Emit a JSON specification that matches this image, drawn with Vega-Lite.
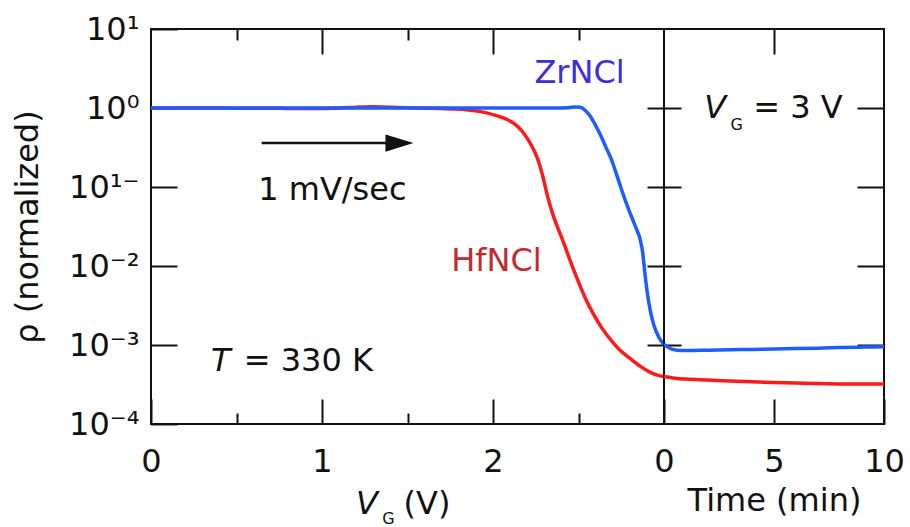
{
  "$schema": "https://vega.github.io/schema/vega-lite/v6.json",
  "padding": {"left": 10, "top": 12, "right": 5, "bottom": 5},
  "background": "white",
  "spacing": 0,
  "bounds": "flush",
  "config": {
    "view": {"stroke": "#111", "strokeWidth": 2},
    "axis": {
      "domain": false, "grid": false,
      "tickColor": "#111", "tickWidth": 2,
      "labelFont": "DejaVu Sans", "labelFontSize": 32, "labelColor": "#111",
      "titleFont": "DejaVu Sans", "titleFontSize": 32, "titleFontWeight": "normal", "titleColor": "#111",
      "labelFlush": false, "labelOverlap": false
    }
  },
  "datasets": {
    "sweep": [
      {"material": "HfNCl", "V": 0, "rho": 1.0},
      {"material": "HfNCl", "V": 0.25, "rho": 1.0},
      {"material": "HfNCl", "V": 0.5, "rho": 1.0},
      {"material": "HfNCl", "V": 0.75, "rho": 0.99},
      {"material": "HfNCl", "V": 0.95, "rho": 0.985},
      {"material": "HfNCl", "V": 1.1, "rho": 1.0},
      {"material": "HfNCl", "V": 1.2, "rho": 1.025},
      {"material": "HfNCl", "V": 1.3, "rho": 1.04},
      {"material": "HfNCl", "V": 1.4, "rho": 1.02},
      {"material": "HfNCl", "V": 1.55, "rho": 1.0},
      {"material": "HfNCl", "V": 1.7, "rho": 0.985},
      {"material": "HfNCl", "V": 1.8, "rho": 0.97},
      {"material": "HfNCl", "V": 1.88, "rho": 0.93},
      {"material": "HfNCl", "V": 1.95, "rho": 0.88},
      {"material": "HfNCl", "V": 2.02, "rho": 0.8},
      {"material": "HfNCl", "V": 2.08, "rho": 0.72},
      {"material": "HfNCl", "V": 2.13, "rho": 0.62},
      {"material": "HfNCl", "V": 2.18, "rho": 0.48},
      {"material": "HfNCl", "V": 2.22, "rho": 0.35},
      {"material": "HfNCl", "V": 2.26, "rho": 0.23},
      {"material": "HfNCl", "V": 2.29, "rho": 0.14},
      {"material": "HfNCl", "V": 2.32, "rho": 0.075},
      {"material": "HfNCl", "V": 2.35, "rho": 0.045},
      {"material": "HfNCl", "V": 2.38, "rho": 0.03},
      {"material": "HfNCl", "V": 2.42, "rho": 0.018},
      {"material": "HfNCl", "V": 2.46, "rho": 0.0104},
      {"material": "HfNCl", "V": 2.5, "rho": 0.0063},
      {"material": "HfNCl", "V": 2.54, "rho": 0.0039},
      {"material": "HfNCl", "V": 2.59, "rho": 0.0024},
      {"material": "HfNCl", "V": 2.64, "rho": 0.0016},
      {"material": "HfNCl", "V": 2.69, "rho": 0.00115},
      {"material": "HfNCl", "V": 2.74, "rho": 0.00087},
      {"material": "HfNCl", "V": 2.8, "rho": 0.00068},
      {"material": "HfNCl", "V": 2.86, "rho": 0.00054},
      {"material": "HfNCl", "V": 2.92, "rho": 0.00045},
      {"material": "HfNCl", "V": 2.97, "rho": 0.00041},
      {"material": "HfNCl", "V": 3.0, "rho": 0.0004},
      {"material": "ZrNCl", "V": 0, "rho": 1.0},
      {"material": "ZrNCl", "V": 0.25, "rho": 1.0},
      {"material": "ZrNCl", "V": 0.5, "rho": 0.995},
      {"material": "ZrNCl", "V": 0.75, "rho": 1.0},
      {"material": "ZrNCl", "V": 1.0, "rho": 1.0},
      {"material": "ZrNCl", "V": 1.25, "rho": 1.0},
      {"material": "ZrNCl", "V": 1.5, "rho": 1.0},
      {"material": "ZrNCl", "V": 1.75, "rho": 1.0},
      {"material": "ZrNCl", "V": 2.0, "rho": 1.0},
      {"material": "ZrNCl", "V": 2.2, "rho": 1.0},
      {"material": "ZrNCl", "V": 2.35, "rho": 1.0},
      {"material": "ZrNCl", "V": 2.44, "rho": 1.01},
      {"material": "ZrNCl", "V": 2.48, "rho": 1.03},
      {"material": "ZrNCl", "V": 2.51, "rho": 1.02},
      {"material": "ZrNCl", "V": 2.54, "rho": 0.93},
      {"material": "ZrNCl", "V": 2.57, "rho": 0.78},
      {"material": "ZrNCl", "V": 2.6, "rho": 0.6},
      {"material": "ZrNCl", "V": 2.63, "rho": 0.45},
      {"material": "ZrNCl", "V": 2.66, "rho": 0.32},
      {"material": "ZrNCl", "V": 2.69, "rho": 0.23},
      {"material": "ZrNCl", "V": 2.72, "rho": 0.15},
      {"material": "ZrNCl", "V": 2.75, "rho": 0.095},
      {"material": "ZrNCl", "V": 2.78, "rho": 0.062},
      {"material": "ZrNCl", "V": 2.81, "rho": 0.042},
      {"material": "ZrNCl", "V": 2.84, "rho": 0.029},
      {"material": "ZrNCl", "V": 2.86, "rho": 0.022},
      {"material": "ZrNCl", "V": 2.875, "rho": 0.015},
      {"material": "ZrNCl", "V": 2.89, "rho": 0.0075},
      {"material": "ZrNCl", "V": 2.905, "rho": 0.0042},
      {"material": "ZrNCl", "V": 2.92, "rho": 0.0027},
      {"material": "ZrNCl", "V": 2.94, "rho": 0.0018},
      {"material": "ZrNCl", "V": 2.97, "rho": 0.00125},
      {"material": "ZrNCl", "V": 3.0, "rho": 0.00102}
    ],
    "hold": [
      {"material": "HfNCl", "t": 0, "rho": 0.0004},
      {"material": "HfNCl", "t": 0.5, "rho": 0.00038},
      {"material": "HfNCl", "t": 1, "rho": 0.00037},
      {"material": "HfNCl", "t": 2, "rho": 0.00036},
      {"material": "HfNCl", "t": 3, "rho": 0.00035},
      {"material": "HfNCl", "t": 4, "rho": 0.000342},
      {"material": "HfNCl", "t": 5, "rho": 0.000335},
      {"material": "HfNCl", "t": 6, "rho": 0.00033},
      {"material": "HfNCl", "t": 7, "rho": 0.000326},
      {"material": "HfNCl", "t": 8, "rho": 0.000322},
      {"material": "HfNCl", "t": 9, "rho": 0.00032},
      {"material": "HfNCl", "t": 10, "rho": 0.00032},
      {"material": "ZrNCl", "t": 0, "rho": 0.00102},
      {"material": "ZrNCl", "t": 0.3, "rho": 0.0009},
      {"material": "ZrNCl", "t": 0.6, "rho": 0.00086},
      {"material": "ZrNCl", "t": 1, "rho": 0.00085},
      {"material": "ZrNCl", "t": 2, "rho": 0.00086},
      {"material": "ZrNCl", "t": 3, "rho": 0.00087},
      {"material": "ZrNCl", "t": 4, "rho": 0.00088},
      {"material": "ZrNCl", "t": 5, "rho": 0.00089},
      {"material": "ZrNCl", "t": 6, "rho": 0.0009},
      {"material": "ZrNCl", "t": 7, "rho": 0.00091},
      {"material": "ZrNCl", "t": 8, "rho": 0.00093},
      {"material": "ZrNCl", "t": 9, "rho": 0.00094},
      {"material": "ZrNCl", "t": 10, "rho": 0.00095}
    ]
  },
  "hconcat": [
    {
      "width": 513,
      "height": 395,
      "resolve": {"axis": {"x": "independent", "y": "independent"}},
      "layer": [
        {
          "data": {"name": "sweep"},
          "mark": {"type": "line", "strokeWidth": 3.5, "interpolate": "monotone", "clip": true},
          "encoding": {
            "x": {"field": "V", "type": "quantitative", "scale": {"domain": [0, 3], "nice": false, "zero": false},
                  "axis": {"orient": "bottom", "values": [0, 1, 2], "tickSize": -25, "labelPadding": 47, "title": null}},
            "y": {"field": "rho", "type": "quantitative", "scale": {"type": "log", "domain": [0.0001, 10], "nice": false},
                  "axis": {"orient": "left", "values": [10, 1, 0.1, 0.01, 0.001, 0.0001], "tickSize": -26, "labelPadding": 38,
                           "labelExpr": "datum.value > 5 ? '10¹' : datum.value > 0.5 ? '10⁰' : datum.value > 0.05 ? '10¹⁻' : datum.value > 0.005 ? '10⁻²' : datum.value > 0.0005 ? '10⁻³' : '10⁻⁴'",
                           "title": "ρ (normalized)", "titlePadding": 24}},
            "color": {"field": "material", "type": "nominal", "scale": {"domain": ["HfNCl", "ZrNCl"], "range": ["#ff1a1a", "#1f5cff"]}, "legend": null}
          }
        },
        {
          "data": {"values": [{"V": 2.506, "rho": 2.75, "label": "ZrNCl"}]},
          "mark": {"type": "text", "font": "DejaVu Sans", "fontSize": 32, "fill": "#3b30d8", "align": "center", "baseline": "middle"},
          "encoding": {
            "x": {"field": "V", "type": "quantitative", "scale": {"domain": [0, 3], "nice": false, "zero": false},
                  "axis": {"orient": "top", "values": [1, 2], "tickSize": -25, "labels": false, "title": null}},
            "y": {"field": "rho", "type": "quantitative", "scale": {"type": "log", "domain": [0.0001, 10], "nice": false},
                  "axis": {"orient": "right", "values": [1, 0.1, 0.01, 0.001], "tickSize": -17, "labels": false, "title": null}},
            "text": {"field": "label"}
          }
        },
        {
          "data": {"values": [{"V": 2.02, "rho": 0.01156, "label": "HfNCl"}]},
          "mark": {"type": "text", "font": "DejaVu Sans", "fontSize": 32, "fill": "#c42a2f", "align": "center", "baseline": "middle"},
          "encoding": {
            "x": {"field": "V", "type": "quantitative", "scale": {"domain": [0, 3], "nice": false, "zero": false}, "axis": null},
            "y": {"field": "rho", "type": "quantitative", "scale": {"type": "log", "domain": [0.0001, 10], "nice": false}, "axis": null},
            "text": {"field": "label"}
          }
        },
        {
          "data": {"values": [
            {"V": 0.627, "rho": 0.0904, "label": "1 mV/sec"},
            {"V": 0.542, "rho": 0.000634, "label": "= 330 K"},
            {"V": 1.477, "rho": 0.00000964, "label": "(V)"}
          ]},
          "mark": {"type": "text", "font": "DejaVu Sans", "fontSize": 32, "fill": "#111", "align": "left", "baseline": "middle"},
          "encoding": {
            "x": {"field": "V", "type": "quantitative", "scale": {"domain": [0, 3], "nice": false, "zero": false}, "axis": null},
            "y": {"field": "rho", "type": "quantitative", "scale": {"type": "log", "domain": [0.0001, 10], "nice": false}, "axis": null},
            "text": {"field": "label"}
          }
        },
        {
          "data": {"values": [
            {"V": 0.408, "rho": 0.000634, "label": "T"},
            {"V": 1.263, "rho": 0.00000964, "label": "V"}
          ]},
          "mark": {"type": "text", "font": "DejaVu Sans", "fontSize": 32, "fontStyle": "italic", "fill": "#111", "align": "center", "baseline": "middle"},
          "encoding": {
            "x": {"field": "V", "type": "quantitative", "scale": {"domain": [0, 3], "nice": false, "zero": false}, "axis": null},
            "y": {"field": "rho", "type": "quantitative", "scale": {"type": "log", "domain": [0.0001, 10], "nice": false}, "axis": null},
            "text": {"field": "label"}
          }
        },
        {
          "data": {"values": [{"V": 1.389, "rho": 0.00000631, "label": "G"}]},
          "mark": {"type": "text", "font": "DejaVu Sans", "fontSize": 16, "fill": "#111", "align": "center", "baseline": "middle"},
          "encoding": {
            "x": {"field": "V", "type": "quantitative", "scale": {"domain": [0, 3], "nice": false, "zero": false}, "axis": null},
            "y": {"field": "rho", "type": "quantitative", "scale": {"type": "log", "domain": [0.0001, 10], "nice": false}, "axis": null},
            "text": {"field": "label"}
          }
        },
        {
          "data": {"values": [{"V": 0.647, "V2": 1.4, "rho": 0.3597}]},
          "mark": {"type": "rule", "strokeWidth": 2.5, "color": "#111"},
          "encoding": {
            "x": {"field": "V", "type": "quantitative", "scale": {"domain": [0, 3], "nice": false, "zero": false},
                  "axis": {"orient": "bottom", "values": [0.5, 1.5, 2.5], "tickSize": -11, "labels": false, "title": null}},
            "x2": {"field": "V2"},
            "y": {"field": "rho", "type": "quantitative", "scale": {"type": "log", "domain": [0.0001, 10], "nice": false}, "axis": null}
          }
        },
        {
          "data": {"values": [{"V": 1.453, "rho": 0.3597}]},
          "mark": {"type": "point", "shape": "M -1 -0.62 L 1 0 L -1 0.62 Z", "filled": true, "size": 784, "color": "#111", "opacity": 1},
          "encoding": {
            "x": {"field": "V", "type": "quantitative", "scale": {"domain": [0, 3], "nice": false, "zero": false},
                  "axis": {"orient": "top", "values": [0.5, 1.5, 2.5], "tickSize": -11, "labels": false, "title": null}},
            "y": {"field": "rho", "type": "quantitative", "scale": {"type": "log", "domain": [0.0001, 10], "nice": false}, "axis": null}
          }
        }
      ]
    },
    {
      "width": 220,
      "height": 395,
      "resolve": {"axis": {"x": "independent", "y": "independent"}},
      "layer": [
        {
          "data": {"name": "hold"},
          "mark": {"type": "line", "strokeWidth": 3.5, "interpolate": "monotone", "clip": true},
          "encoding": {
            "x": {"field": "t", "type": "quantitative", "scale": {"domain": [0, 10], "nice": false, "zero": false},
                  "axis": {"orient": "bottom", "values": [0, 5, 10], "tickSize": -25, "labelPadding": 47, "title": "Time (min)", "titlePadding": 8}},
            "y": {"field": "rho", "type": "quantitative", "scale": {"type": "log", "domain": [0.0001, 10], "nice": false},
                  "axis": {"orient": "left", "values": [1, 0.1, 0.01, 0.001], "tickSize": -17, "labels": false, "title": null}},
            "color": {"field": "material", "type": "nominal", "scale": {"domain": ["HfNCl", "ZrNCl"], "range": ["#ff1a1a", "#1f5cff"]}, "legend": null}
          }
        },
        {
          "data": {"values": [{"t": 4.06, "rho": 0.989, "label": "= 3 V"}]},
          "mark": {"type": "text", "font": "DejaVu Sans", "fontSize": 32, "fill": "#111", "align": "left", "baseline": "middle"},
          "encoding": {
            "x": {"field": "t", "type": "quantitative", "scale": {"domain": [0, 10], "nice": false, "zero": false},
                  "axis": {"orient": "top", "values": [5], "tickSize": -25, "labels": false, "title": null}},
            "y": {"field": "rho", "type": "quantitative", "scale": {"type": "log", "domain": [0.0001, 10], "nice": false},
                  "axis": {"orient": "right", "values": [1, 0.1, 0.01, 0.001], "tickSize": -27, "labels": false, "title": null}},
            "text": {"field": "label"}
          }
        },
        {
          "data": {"values": [{"t": 2.33, "rho": 0.989, "label": "V"}]},
          "mark": {"type": "text", "font": "DejaVu Sans", "fontSize": 32, "fontStyle": "italic", "fill": "#111", "align": "center", "baseline": "middle"},
          "encoding": {
            "x": {"field": "t", "type": "quantitative", "scale": {"domain": [0, 10], "nice": false, "zero": false}, "axis": null},
            "y": {"field": "rho", "type": "quantitative", "scale": {"type": "log", "domain": [0.0001, 10], "nice": false}, "axis": null},
            "text": {"field": "label"}
          }
        },
        {
          "data": {"values": [{"t": 3.31, "rho": 0.611, "label": "G"}]},
          "mark": {"type": "text", "font": "DejaVu Sans", "fontSize": 16, "fill": "#111", "align": "center", "baseline": "middle"},
          "encoding": {
            "x": {"field": "t", "type": "quantitative", "scale": {"domain": [0, 10], "nice": false, "zero": false}, "axis": null},
            "y": {"field": "rho", "type": "quantitative", "scale": {"type": "log", "domain": [0.0001, 10], "nice": false}, "axis": null},
            "text": {"field": "label"}
          }
        }
      ]
    }
  ]
}
